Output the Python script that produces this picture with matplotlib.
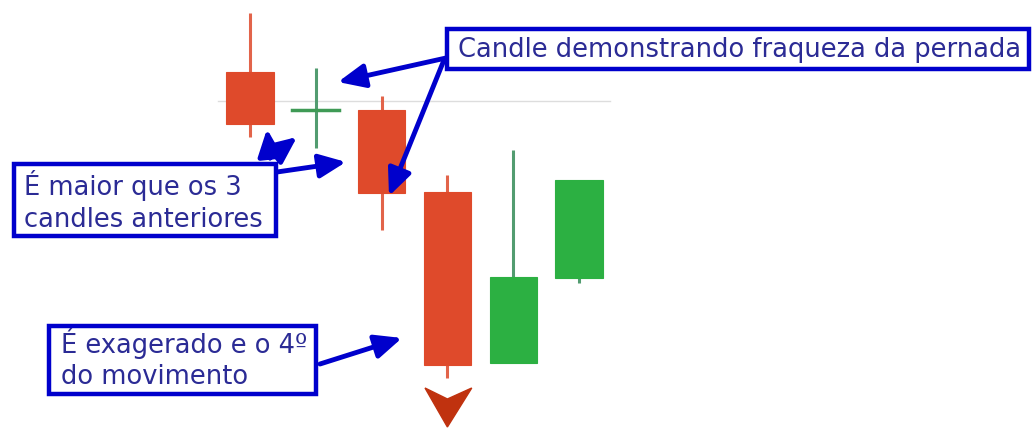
import matplotlib
matplotlib.use("Agg")
import matplotlib.pyplot as plt
from matplotlib.patches import Rectangle, FancyArrowPatch, Polygon

# ---- data (price units) ----
opens  = [356, 318, 318, 236, 65, 150]
closes = [304, 318, 235, 63, 151, 248]
highs  = [415, 360, 332, 253, 278, 248]
lows   = [291, 280, 198, 50, 65, 145]
ref_level = 327
signal_idx = 3

box_lines = [["Candle demonstrando fraqueza da pernada"],
             ["É maior que os 3", "candles anteriores"],
             ["É exagerado e o 4º", "do movimento"]]

W, H = 1033, 428
fig = plt.figure(figsize=(W / 100, H / 100), dpi=100)
fig.patch.set_facecolor("white")
ax = fig.add_axes([0, 0, 1, 1])
ax.set_xlim(-250 / 65.8, (W - 250) / 65.8)
ax.set_ylim(0, H)
ax.axis("off")

RED = "#df4a2b"
GREEN = "#2cb042"
RED_WICK = "#e2644a"
GREEN_WICK = "#529c70"
bw = 0.72

ax.plot([-0.49, 5.47], [ref_level, ref_level], color="#dddddd", lw=1, zorder=1)

for i, (o, c, h, l) in enumerate(zip(opens, closes, highs, lows)):
    up = c >= o
    col = GREEN if up else RED
    wcol = GREEN_WICK if up else RED_WICK
    ax.plot([i, i], [l, h], color=wcol, lw=2.2, zorder=2, solid_capstyle="butt")
    lo, hi = min(o, c), max(o, c)
    if hi - lo < 2:
        ax.plot([i - bw / 2, i + bw / 2], [o, o], color="#3f9a55", lw=2.5, zorder=3)
    else:
        ax.add_patch(Rectangle((i - bw / 2, lo), bw, hi - lo, facecolor=col,
                               edgecolor=col, lw=0.8, zorder=3))

# down signal marker below candle
s = signal_idx
top = lows[s] - 10
ax.add_patch(Polygon([(s - 0.34, top), (s, top - 11), (s + 0.37, top), (s, top - 39)],
                     closed=True, facecolor="#c0320f", edgecolor="#c0320f", zorder=3))

def fx(x):
    return x / W

def fy(y):
    return 1 - y / H

BLUE = "#0000cc"
TXT = "#2b2b95"

def box(x0, y0, x1, y1, lines, tx, baselines):
    fig.add_artist(Rectangle((fx(x0), fy(y1)), fx(x1 - x0), (y1 - y0) / H,
                             transform=fig.transFigure, facecolor="white",
                             edgecolor=BLUE, lw=3.2, zorder=5))
    for line, by in zip(lines, baselines):
        fig.text(fx(tx), fy(by), line, color=TXT, fontsize=18.5, family="DejaVu Sans",
                 va="baseline", ha="left", zorder=6)

box(447, 29, 1029, 69, box_lines[0], 458, [57])
box(14, 164, 276, 236, box_lines[1], 24, [195, 227])
box(49, 326, 316, 394, box_lines[2], 61, [353, 384])

def arrow(x0, y0, x1, y1):
    fig.add_artist(FancyArrowPatch((fx(x0), fy(y0)), (fx(x1), fy(y1)),
                                   transform=fig.transFigure,
                                   arrowstyle="-|>,head_length=0.9,head_width=0.4",
                                   mutation_scale=18, color=BLUE, lw=3.5, zorder=7,
                                   shrinkA=0, shrinkB=0))

arrow(446, 58, 338, 82)
arrow(444, 60, 389, 196)
arrow(270, 158, 267, 129)
arrow(270, 158, 297, 137)
arrow(277, 172, 346, 162)
arrow(320, 364, 402, 338)

fig.savefig("out.png", dpi=100, facecolor="white")
